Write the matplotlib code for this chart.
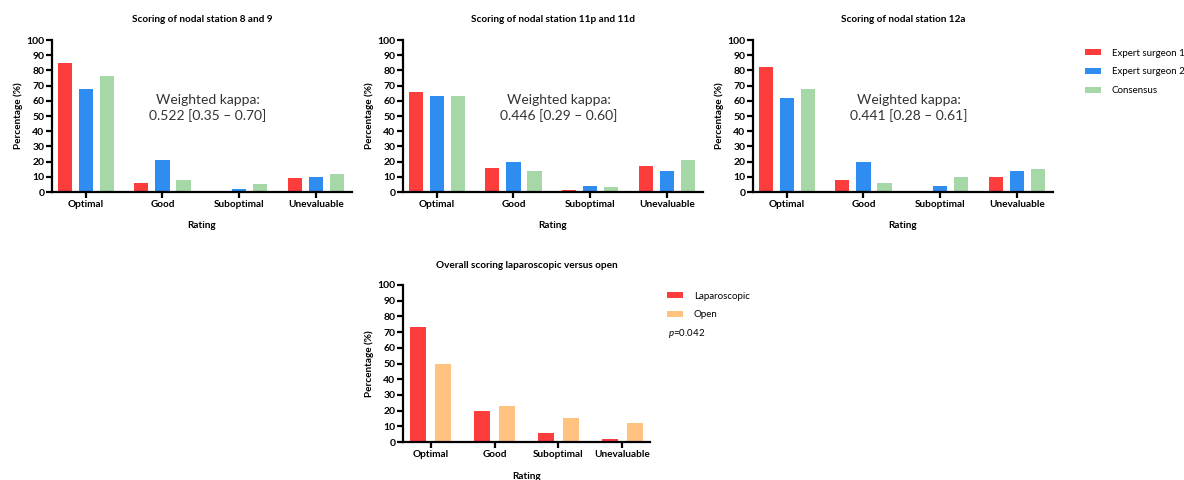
import numpy as np
import matplotlib
matplotlib.use('Agg')
import matplotlib.pyplot as plt

plt.rcParams['font.family'] = ['Lato', 'DejaVu Sans']
plt.rcParams['mathtext.fontset'] = 'custom'
plt.rcParams['mathtext.it'] = 'Lato:italic'
plt.rcParams['mathtext.rm'] = 'Lato'

ratings = ['Optimal', 'Good', 'Suboptimal', 'Unevaluable']
raters = ['Expert surgeon 1', 'Expert surgeon 2', 'Consensus']
rater_colors = ['#fd3c3c', '#2f8cf0', '#a6d7a6']

# nodal station 8 and 9
st89_surgeon1 = [85, 6, 0, 9]
st89_surgeon2 = [68, 21, 2, 10]
st89_consensus = [76, 8, 5, 12]
# nodal station 11p and 11d
st11_surgeon1 = [66, 16, 1, 17]
st11_surgeon2 = [63, 20, 4, 14]
st11_consensus = [63, 14, 3, 21]
# nodal station 12a
st12_surgeon1 = [82, 8, 0, 10]
st12_surgeon2 = [62, 20, 4, 14]
st12_consensus = [68, 6, 10, 15]
# overall
lap_scores = [73, 20, 6, 2]
open_scores = [50, 23, 15, 12]

titles = ['Scoring of nodal station 8 and 9',
          'Scoring of nodal station 11p and 11d',
          'Scoring of nodal station 12a']
kappas = ['Weighted kappa:\n0.522 [0.35 \u2013 0.70]',
          'Weighted kappa:\n0.446 [0.29 \u2013 0.60]',
          'Weighted kappa:\n0.441 [0.28 \u2013 0.61]']
station_data = [
    [st89_surgeon1, st89_surgeon2, st89_consensus],
    [st11_surgeon1, st11_surgeon2, st11_consensus],
    [st12_surgeon1, st12_surgeon2, st12_consensus],
]


def style_axes(ax, xlim):
    ax.set_ylim(0, 100)
    ax.set_xlim(*xlim)
    ax.set_yticks(np.arange(0, 101, 10))
    ax.set_xticks(np.arange(len(ratings)))
    ax.set_xticklabels(ratings, fontweight='bold', fontsize=7.2)
    for lbl in ax.get_yticklabels():
        lbl.set_fontweight('bold')
        lbl.set_fontsize(7.5)
    for side in ['top', 'right']:
        ax.spines[side].set_visible(False)
    for side in ['left', 'bottom']:
        ax.spines[side].set_linewidth(1.6)
    ax.tick_params(axis='both', width=1.6, length=4, pad=1.5)
    ax.set_xlabel('Rating', fontweight='bold', fontsize=7.2, labelpad=9)
    ax.set_ylabel('Percentage (%)', fontweight='bold', fontsize=7.2, labelpad=2)


fig = plt.figure(figsize=(11.84, 4.8), dpi=100)
lefts = [52, 403, 753]
x = np.arange(len(ratings))
for i, left in enumerate(lefts):
    ax = fig.add_axes([left / 1184, 1 - 192 / 480, 300 / 1184, 152 / 480])
    for j, vals in enumerate(station_data[i]):
        ax.bar(x + (j - 1) * 0.275, vals, width=0.185, color=rater_colors[j],
               label=raters[j], zorder=2)
    style_axes(ax, (-0.44, 3.47))
    ax.set_title(titles[i], fontweight='bold', fontsize=7.2, pad=13)
    ax.text(0.52, 0.555, kappas[i], transform=ax.transAxes, ha='center',
            va='center', fontsize=10, linespacing=1.3, color='#333333')
    if i == 2:
        ax.legend(loc='upper left', bbox_to_anchor=(1076 / 1184, 1 - 40 / 480),
                  bbox_transform=fig.transFigure, frameon=False, fontsize=7,
                  handlelength=1.7, handleheight=0.6, labelspacing=1.0,
                  handletextpad=1.1)

ax4 = fig.add_axes([403 / 1184, 38 / 480, 247 / 1184, 157 / 480])
ax4.bar(x - 0.195, lap_scores, width=0.26, color='#fd3c3c', label='Laparoscopic', zorder=2)
ax4.bar(x + 0.195, open_scores, width=0.26, color='#ffc27f', label='Open', zorder=2)
style_axes(ax4, (-0.43, 3.43))
ax4.set_title('Overall scoring laparoscopic versus open', fontweight='bold',
              fontsize=7.2, pad=12)
ax4.xaxis.labelpad = 9.5
ax4.legend(loc='upper left', bbox_to_anchor=(658 / 1184, 1 - 283 / 480),
           bbox_transform=fig.transFigure, frameon=False, fontsize=7,
           handlelength=1.7, handleheight=0.6, labelspacing=1.0,
           handletextpad=1.1)
fig.text(668 / 1184, 1 - 334 / 480, r'$\it{p}$=0.042', fontsize=7, va='center')

fig.savefig('out.png', dpi=100)
